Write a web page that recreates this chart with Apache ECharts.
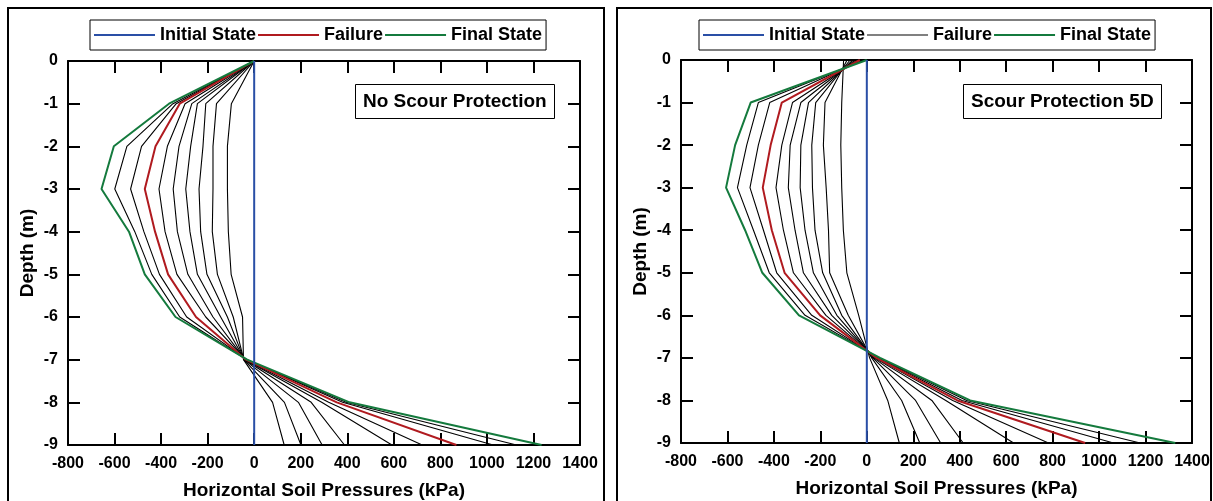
<!DOCTYPE html>
<html>
<head>
<meta charset="utf-8">
<script src="https://cdn.jsdelivr.net/npm/echarts@6/dist/echarts.min.js"></script>
<style>
  html, body { margin: 0; padding: 0; background: #fff; }
  #chart { width: 1213px; height: 501px; }
</style>
</head>
<body>
<div id="chart"></div>
<script>
// Depth stations along the pile (m)
const depths = [0, -1, -2, -3, -4, -5, -6, -7, -8, -9];

// Axis ranges / tick spacing
const pressureMin = -800, pressureMax = 1400, pressureStep = 200;
const depthMin = -9, depthMax = 0, depthStep = 1;

// ---- No scour protection: horizontal soil pressures (kPa) at each depth ----
const noScourInitial = [0, 0, 0, 0, 0, 0, 0, 0, 0, 0];
const noScourFailure = [0, -320, -424, -470, -426, -370, -250, -35, 355, 869];
const noScourFinal   = [0, -366, -603, -656, -538, -470, -338, -30, 410, 1235];
const noScourStep1 = [0, -98, -115, -115, -111, -99, -50, -46, 79, 129];
const noScourStep2 = [0, -162, -177, -177, -180, -158, -90, -45, 130, 201];
const noScourStep3 = [0, -208, -220, -237, -230, -203, -115, -43, 190, 292];
const noScourStep4 = [0, -244, -273, -294, -276, -244, -144, -41, 245, 388];
const noScourStep5 = [0, -268, -323, -348, -330, -285, -177, -39, 290, 592];
const noScourStep6 = [0, -297, -373, -409, -383, -332, -208, -37, 320, 722];
const noScourStep7 = [0, -335, -484, -531, -474, -407, -290, -33, 380, 1027];
const noScourStep8 = [0, -349, -547, -599, -513, -440, -320, -32, 395, 1127];

// ---- Scour protection 5D ----
const scourInitial = [0, 0, 0, 0, 0, 0, 0, 0, 0, 0];
const scourFailure = [-30, -366, -414, -448, -409, -354, -201, 41, 390, 940];
const scourFinal   = [0, -500, -567, -606, -524, -450, -292, 57, 445, 1328];
const scourStep1 = [-100, -108, -112, -108, -101, -86, -35, 12, 90, 140];
const scourStep2 = [-85, -180, -187, -175, -165, -160, -80, 21, 150, 228];
const scourStep3 = [-72, -220, -237, -234, -223, -190, -108, 26, 210, 318];
const scourStep4 = [-60, -251, -284, -287, -266, -230, -129, 30, 280, 415];
const scourStep5 = [-50, -284, -330, -338, -309, -273, -151, 34, 340, 632];
const scourStep6 = [-40, -320, -366, -391, -359, -316, -176, 38, 370, 782];
const scourStep7 = [-20, -418, -467, -503, -445, -388, -237, 48, 410, 1062];
const scourStep8 = [-10, -467, -517, -557, -488, -420, -266, 53, 430, 1177];

const noScourSteps = [noScourStep1, noScourStep2, noScourStep3, noScourStep4,
                      noScourStep5, noScourStep6, noScourStep7, noScourStep8];
const scourSteps = [scourStep1, scourStep2, scourStep3, scourStep4,
                    scourStep5, scourStep6, scourStep7, scourStep8];

const FONT = '"Liberation Sans", Arial, sans-serif';
const BLUE = '#2a4fa6', RED = '#b01a1f', GREEN = '#147a3d', GREY = '#808080';

function profile(values) {
  return depths.map((d, i) => [values[i], d]);
}

function panelSeries(axisIdx, steps, failure, final, initial) {
  const list = [];
  steps.forEach((vals, k) => {
    list.push({
      name: 'Load step ' + (k + 1), type: 'line', xAxisIndex: axisIdx, yAxisIndex: axisIdx,
      data: profile(vals), symbol: 'none', silent: true, z: 2,
      lineStyle: { color: '#000', width: 1.1 }
    });
  });
  list.push({
    name: 'Failure', type: 'line', xAxisIndex: axisIdx, yAxisIndex: axisIdx,
    data: profile(failure), symbol: 'none', silent: true, z: 3,
    lineStyle: { color: RED, width: 2 }, itemStyle: { color: RED }
  });
  list.push({
    name: 'Final State', type: 'line', xAxisIndex: axisIdx, yAxisIndex: axisIdx,
    data: profile(final), symbol: 'none', silent: true, z: 4,
    lineStyle: { color: GREEN, width: 2 }, itemStyle: { color: GREEN }
  });
  list.push({
    name: 'Initial State', type: 'line', xAxisIndex: axisIdx, yAxisIndex: axisIdx,
    data: profile(initial), symbol: 'none', silent: true, z: 5,
    lineStyle: { color: BLUE, width: 2 }, itemStyle: { color: BLUE }
  });
  return list;
}

const axisLineStyle = { color: '#000', width: 2 };
const tickStyle = { inside: true, length: 12, lineStyle: { color: '#000', width: 2 } };
const labelStyle = { color: '#000', fontFamily: FONT, fontWeight: 'bold', fontSize: 16 };
const nameStyle = { color: '#000', fontFamily: FONT, fontWeight: 'bold', fontSize: 19 };

function xAxes(grid) {
  return [
    {
      gridIndex: grid, type: 'value', position: 'bottom',
      min: pressureMin, max: pressureMax, interval: pressureStep,
      axisLine: { onZero: false, lineStyle: axisLineStyle },
      axisTick: tickStyle, splitLine: { show: false },
      axisLabel: Object.assign({ margin: 11, formatter: v => String(v) }, labelStyle),
      name: 'Horizontal Soil Pressures (kPa)', nameLocation: 'middle', nameGap: 36,
      nameTextStyle: nameStyle
    },
    {
      gridIndex: grid, type: 'value', position: 'top',
      min: pressureMin, max: pressureMax, interval: pressureStep,
      axisLine: { onZero: false, lineStyle: axisLineStyle },
      axisTick: tickStyle, splitLine: { show: false }, axisLabel: { show: false }
    }
  ];
}

function yAxes(grid) {
  return [
    {
      gridIndex: grid, type: 'value', position: 'left',
      min: depthMin, max: depthMax, interval: depthStep,
      axisLine: { onZero: false, lineStyle: axisLineStyle },
      axisTick: tickStyle, splitLine: { show: false },
      axisLabel: Object.assign({ margin: 10, formatter: v => String(v) }, labelStyle),
      name: 'Depth (m)', nameLocation: 'middle', nameGap: 31, nameRotate: 90,
      nameTextStyle: nameStyle
    },
    {
      gridIndex: grid, type: 'value', position: 'right',
      min: depthMin, max: depthMax, interval: depthStep,
      axisLine: { onZero: false, lineStyle: axisLineStyle },
      axisTick: tickStyle, splitLine: { show: false }, axisLabel: { show: false }
    }
  ];
}

const legendText = { color: '#000', fontFamily: FONT, fontWeight: 'bold', fontSize: 18 };
const legendBase = {
  top: 20, orient: 'horizontal', icon: 'rect', itemWidth: 61, itemHeight: 2, itemGap: 2,
  padding: [6, 4], borderColor: '#000', borderWidth: 1, selectedMode: false,
  textStyle: legendText
};

const titleText = { color: '#000', fontFamily: FONT, fontWeight: 'bold', fontSize: 19 };

const chart = echarts.init(document.getElementById('chart'), null, { renderer: 'canvas' });
chart.setOption({
  animation: false,
  backgroundColor: '#fff',
  grid: [
    { left: 68, top: 61, width: 512, height: 384, outerBoundsMode: 'none', containLabel: false },
    { left: 681, top: 60, width: 511, height: 383, outerBoundsMode: 'none', containLabel: false }
  ],
  xAxis: xAxes(0).concat(xAxes(1)),
  yAxis: yAxes(0).concat(yAxes(1)),
  legend: [
    Object.assign({ left: 90, data: ['Initial State', 'Failure', 'Final State'] }, legendBase),
    Object.assign({
      left: 699,
      data: [
        { name: 'Initial State' },
        { name: 'Failure', itemStyle: { color: GREY } },
        { name: 'Final State' }
      ]
    }, legendBase)
  ],
  title: [
    { text: 'No Scour Protection', left: 355, top: 84, padding: [8, 8],
      borderColor: '#000', borderWidth: 1, textStyle: titleText },
    { text: 'Scour Protection 5D', left: 963, top: 84, padding: [8, 8],
      borderColor: '#000', borderWidth: 1, textStyle: titleText }
  ],
  graphic: [
    { type: 'rect', silent: true, z: -1, shape: { x: 8, y: 8, width: 596, height: 520 },
      style: { fill: 'none', stroke: '#000', lineWidth: 2 } },
    { type: 'rect', silent: true, z: -1, shape: { x: 617, y: 8, width: 594, height: 520 },
      style: { fill: 'none', stroke: '#000', lineWidth: 2 } }
  ],
  series: panelSeries(0, noScourSteps, noScourFailure, noScourFinal, noScourInitial)
    .concat(panelSeries(2, scourSteps, scourFailure, scourFinal, scourInitial))
});
</script>
</body>
</html>
